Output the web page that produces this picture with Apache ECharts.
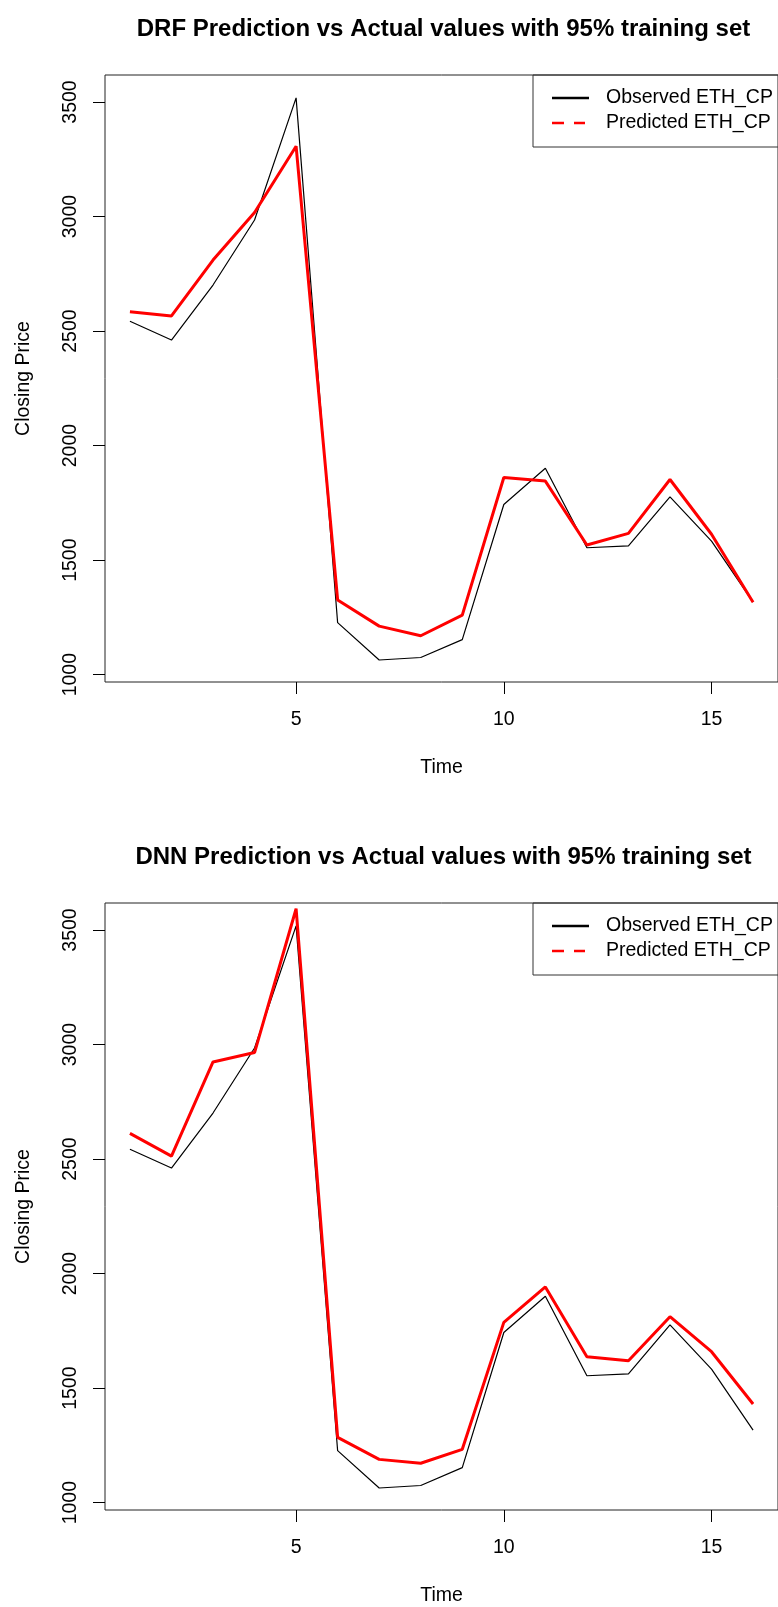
<!DOCTYPE html>
<html>
<head>
<meta charset="utf-8">
<script src="https://cdn.jsdelivr.net/npm/echarts@6/dist/echarts.min.js"></script>
<style>
  html, body { margin: 0; padding: 0; background: #fff; }
  #main { width: 778px; height: 1607px; }
</style>
</head>
<body>
<div id="main"></div>
<script>
// time index 1..16
const time = [1, 2, 3, 4, 5, 6, 7, 8, 9, 10, 11, 12, 13, 14, 15, 16]

// observed ETH closing price (same in both panels)
const observed = [2543, 2461, 2701, 2985, 3518, 1227, 1064, 1075, 1153, 1743, 1901, 1554, 1562, 1776, 1583, 1317]

// DRF predictions
const drfPredicted = [2584, 2566, 2810, 3018, 3307, 1326, 1212, 1170, 1260, 1861, 1845, 1566, 1617, 1852, 1613, 1316]

// DNN predictions
const dnnPredicted = [2612, 2513, 2924, 2965, 3593, 1285, 1189, 1172, 1233, 1787, 1942, 1637, 1620, 1812, 1659, 1431]

const xTicks = [5, 10, 15]
const yTicks = [1000, 1500, 2000, 2500, 3000, 3500]

const titles = [
  'DRF Prediction vs Actual values with 95% training set',
  'DNN Prediction vs Actual values with 95% training set',
]

const FONT = '"Liberation Sans", Arial, sans-serif'
const panelTops = [75, 903]
const plotH = 607

// legend keys: a solid line and an R style lty=2 dash
const solidKey = 'path://M0,0H37V1H0Z'
const dashKey = 'path://M0,0H12V1H0Z M22,0H33V1H22Z M37,0L37,1'

const toPoints = (vals) => time.map((t, i) => [t, vals[i]])

const chart = echarts.init(document.getElementById('main'))

const grids = panelTops.map((top) => ({
  left: 105,
  top: top,
  width: 677,
  height: plotH,
  show: true,
  borderColor: '#222',
  borderWidth: 1,
  backgroundColor: 'transparent',
}))

const xAxes = panelTops.map((_, i) => ({
  type: 'value',
  gridIndex: i,
  min: 0.4,
  max: 16.6,
  name: 'Time',
  nameLocation: 'middle',
  nameGap: 76,
  nameTextStyle: {fontFamily: FONT, fontSize: 19.5, color: '#000'},
  axisLine: {show: false},
  axisTick: {show: true, length: 12, customValues: xTicks, lineStyle: {color: '#000', width: 1}},
  axisLabel: {customValues: xTicks, margin: 28, fontFamily: FONT, fontSize: 19.5, color: '#000', formatter: (v) => String(v)},
  splitLine: {show: false},
}))

const yAxes = panelTops.map((_, i) => ({
  type: 'value',
  gridIndex: i,
  min: 968,
  max: 3618,
  name: 'Closing Price',
  nameLocation: 'middle',
  nameGap: 71,
  nameTextStyle: {fontFamily: FONT, fontSize: 19.5, color: '#000'},
  axisLine: {show: false},
  axisTick: {show: true, length: 12, customValues: yTicks, lineStyle: {color: '#000', width: 1}},
  axisLabel: {customValues: yTicks, rotate: 90, margin: 24, fontFamily: FONT, fontSize: 19.5, color: '#000', formatter: (v) => String(v)},
  splitLine: {show: false},
}))

const predictedSets = [drfPredicted, dnnPredicted]
const series = []
panelTops.forEach((_, i) => {
  series.push({
    name: 'Observed ETH_CP',
    type: 'line',
    xAxisIndex: i,
    yAxisIndex: i,
    data: toPoints(observed),
    showSymbol: false,
    symbol: 'none',
    lineStyle: {color: '#000', width: 1.2},
    itemStyle: {color: '#000'},
  })
  series.push({
    name: 'Predicted ETH_CP',
    type: 'line',
    xAxisIndex: i,
    yAxisIndex: i,
    data: toPoints(predictedSets[i]),
    showSymbol: false,
    symbol: 'none',
    lineStyle: {color: '#ff0000', width: 3},
    itemStyle: {color: '#ff0000'},
  })
})

const legends = panelTops.map((top) => ({
  orient: 'vertical',
  left: 533,
  top: top,
  padding: [10.5, 9, 11.5, 19],
  itemGap: 0,
  itemWidth: 37,
  itemHeight: 2.6,
  symbolKeepAspect: false,
  borderColor: '#333',
  borderWidth: 1,
  selectedMode: false,
  textStyle: {fontFamily: FONT, fontSize: 19.5, color: '#000', lineHeight: 25, padding: [0, 0, 0, 12]},
  data: [
    {name: 'Observed ETH_CP', icon: solidKey, itemStyle: {color: '#000', borderWidth: 0}},
    {name: 'Predicted ETH_CP', icon: dashKey, itemStyle: {color: '#ff0000', borderWidth: 0}},
  ],
}))

// title padding is 5, so left = plot centre - 5
const titleOpts = panelTops.map((top, i) => ({
  text: titles[i],
  left: 438.5,
  top: top - 63,
  textAlign: 'center',
  textStyle: {fontFamily: FONT, fontSize: 24, fontWeight: 'bold', color: '#000'},
}))

chart.setOption({
  animation: false,
  backgroundColor: '#fff',
  title: titleOpts,
  legend: legends,
  grid: grids,
  xAxis: xAxes,
  yAxis: yAxes,
  series: series,
})
</script>
</body>
</html>
